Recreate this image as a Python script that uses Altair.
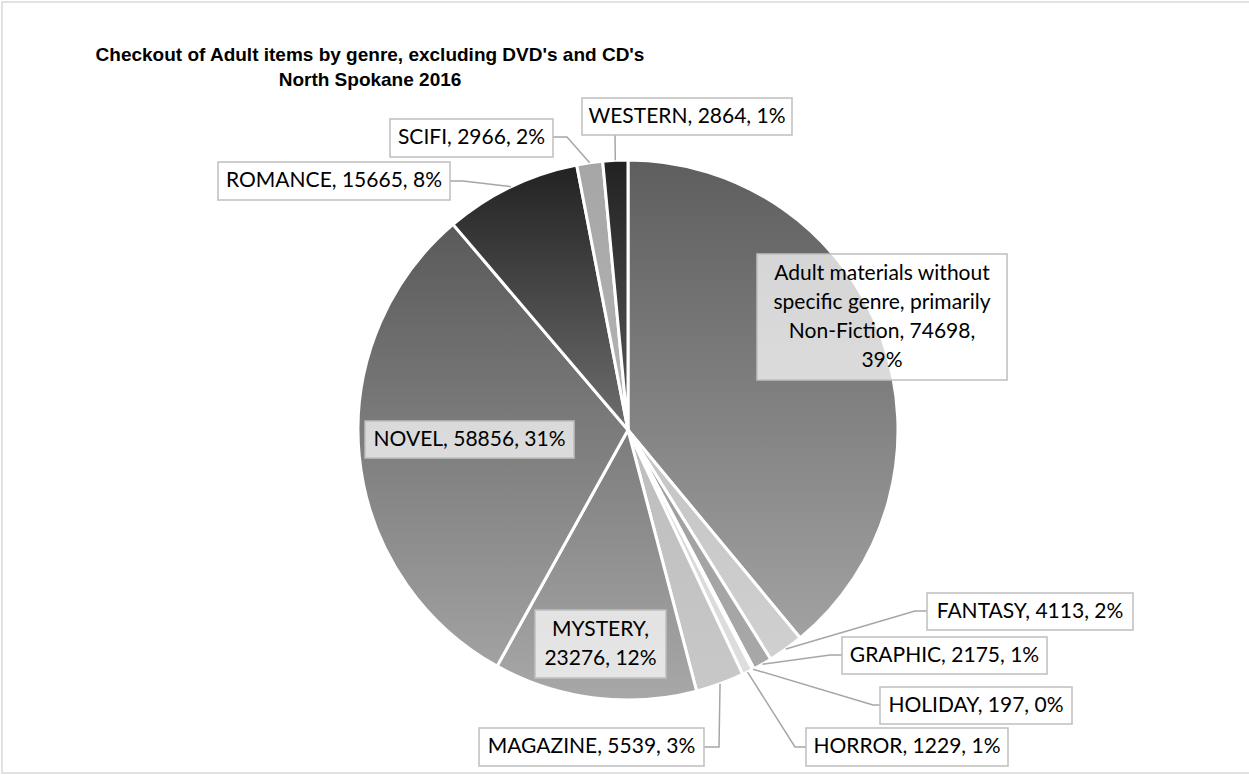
import math
import altair as alt
import pandas as pd

# ---------------- data ----------------
genres = [
    "Adult materials without specific genre, primarily Non-Fiction",
    "FANTASY", "GRAPHIC", "HOLIDAY", "HORROR", "MAGAZINE",
    "MYSTERY", "NOVEL", "ROMANCE", "SCIFI", "WESTERN",
]
checkouts = [74698, 4113, 2175, 197, 1229, 5539, 23276, 58856, 15665, 2966, 2864]

title_lines = ["Checkout of Adult items by genre, excluding DVD's and CD's",
               "North Spokane 2016"]

# ---------------- styles / layout ----------------
top_colors = ["#5e5e5e", "#c4c4c4", "#9e9e9e", "#ececec", "#d6d6d6", "#bdbdbd",
              "#7c7c7c", "#5a5a5a", "#222222", "#a6a6a6", "#222222"]
bottom_colors = ["#a2a2a2", "#d0d0d0", "#a8a8a8", "#f2f2f2", "#dedede", "#c8c8c8",
                 "#a8a8a8", "#a2a2a2", "#6e6e6e", "#b4b4b4", "#5a5a5a"]

W, H = 1249, 775
CX, CY, R = 628, 430, 270
LH = 29

# label boxes: x1, x2, y1, y2
box_x1 = [757, 927, 842, 880, 806, 479, 535, 365, 218, 390, 582]
box_x2 = [1007, 1133, 1047, 1072, 1008, 704, 666, 574, 450, 553, 792]
box_y1 = [254, 593, 637, 687, 728, 728, 610, 421, 162, 119, 98]
box_y2 = [380, 630, 674, 724, 766, 766, 678, 458, 200, 157, 135]
inside = [True, False, False, False, False, False, True, True, False, False, False]
words_per_line = [[3, 3, 2, 1], None, None, None, None, None, [1, 2], None, None, None, None]
# leader lines (elbow and end points) for outside labels
elbow_x = [None, 915, 830, 873, 795, 719, None, None, 463, 567, 615]
elbow_y = [None, 611, 655, 705, 747, 747, None, None, 181, 137, 135]
end_x = [None, 927, 842, 880, 806, 704, None, None, 450, 553, 615]
end_y = [None, 611, 655, 705, 747, 747, None, None, 181, 137, 135]

total = sum(checkouts)

rows = []
cum = 0
for i, (g, v) in enumerate(zip(genres, checkouts)):
    pct = round(100 * v / total)
    label = f"{g}, {v}, {pct}%"
    nlines = 1
    if words_per_line[i]:
        toks = label.split(" ")
        lines, k = [], 0
        for n in words_per_line[i]:
            lines.append(" ".join(toks[k:k + n]))
            k += n
        label = "\n".join(lines)
        nlines = len(lines)
    cy = (box_y1[i] + box_y2[i]) / 2
    rows.append(dict(genre=g, value=v, start=cum, end=cum + v, label=label,
                     bx1=box_x1[i], bx2=box_x2[i], by1=box_y1[i], by2=box_y2[i],
                     tx=(box_x1[i] + box_x2[i]) / 2,
                     ty=cy - (nlines - 1) * LH / 2,
                     inside=inside[i]))
    cum += v
df = pd.DataFrame(rows)

# leader line points: start on slice edge at mid-angle
lead = []
for i, r in df.iterrows():
    if elbow_x[i] is None:
        continue
    a = 2 * math.pi * (r["start"] + r["value"] / 2) / total
    sx = CX + R * math.sin(a)
    sy = CY - R * math.cos(a)
    pts = [(sx, sy), (elbow_x[i], elbow_y[i]), (end_x[i], end_y[i])]
    for j, (px, py) in enumerate(pts):
        lead.append(dict(genre=r["genre"], seq=j, px=px, py=py))
lead_df = pd.DataFrame(lead)

xs = alt.Scale(domain=[0, W], range=[0, W], nice=False, zero=False)
ys = alt.Scale(domain=[0, H], range=[0, H], nice=False, zero=False)
ts = alt.Scale(domain=[0, total], range=[0, 2 * math.pi], nice=False, zero=False)

layers = []

# border
border = alt.Chart(pd.DataFrame({"a": [0]})).mark_rect(
    fill="white", stroke="#d9d9d9", strokeWidth=1.5
).encode(x=alt.value(2), x2=alt.value(W + 10), y=alt.value(2), y2=alt.value(773))
layers.append(border)

# slices
for i, g in enumerate(genres):
    grad = alt.LinearGradient(
        gradient="linear",
        stops=[alt.GradientStop(color=top_colors[i], offset=0),
               alt.GradientStop(color=bottom_colors[i], offset=1)],
        x1=0, x2=0, y1=0, y2=1,
    )
    arc = alt.Chart(df).transform_filter(alt.datum.genre == g).mark_arc(
        x=CX, y=CY, radius=R, fill=grad, stroke="white", strokeWidth=3
    ).encode(
        theta=alt.Theta("start:Q", scale=ts, stack=None),
        theta2="end:Q",
    )
    layers.append(arc)

# leader lines
leaders = alt.Chart(lead_df).mark_line(color="#a6a6a6", strokeWidth=1.5).encode(
    x=alt.X("px:Q", scale=xs, axis=None),
    y=alt.Y("py:Q", scale=ys, axis=None),
    detail="genre:N",
    order="seq:Q",
)
layers.append(leaders)

# label boxes
boxes_out = alt.Chart(df).transform_filter("!datum.inside").mark_rect(
    fill="white", stroke="#bfbfbf", strokeWidth=1.5
).encode(
    x=alt.X("bx1:Q", scale=xs, axis=None), x2="bx2:Q",
    y=alt.Y("by1:Q", scale=ys, axis=None), y2="by2:Q",
)
boxes_in = alt.Chart(df).transform_filter("datum.inside").mark_rect(
    fill="white", fillOpacity=0.72, stroke="#bfbfbf", strokeWidth=1.5
).encode(
    x=alt.X("bx1:Q", scale=xs, axis=None), x2="bx2:Q",
    y=alt.Y("by1:Q", scale=ys, axis=None), y2="by2:Q",
)
layers += [boxes_out, boxes_in]

labels = alt.Chart(df).mark_text(
    font="Lato", fontSize=21, color="black", align="center", baseline="middle",
    lineBreak="\n", lineHeight=LH
).encode(
    x=alt.X("tx:Q", scale=xs, axis=None),
    y=alt.Y("ty:Q", scale=ys, axis=None),
    text="label:N",
)
layers.append(labels)

title_df = pd.DataFrame({"t": ["\n".join(title_lines)], "x": [370], "y": [55]})
title = alt.Chart(title_df).mark_text(
    font="Liberation Sans", fontSize=19, fontWeight="bold", color="black",
    align="center", baseline="middle", lineBreak="\n", lineHeight=25
).encode(
    x=alt.X("x:Q", scale=xs, axis=None),
    y=alt.Y("y:Q", scale=ys, axis=None),
    text="t:N",
)
layers.append(title)

chart = alt.layer(*layers).properties(
    width=W, height=H, padding=0, autosize=alt.AutoSizeParams(type="none")
).configure_view(stroke=None)

chart.save("out.html", embed_options={"renderer": "svg", "actions": False})
